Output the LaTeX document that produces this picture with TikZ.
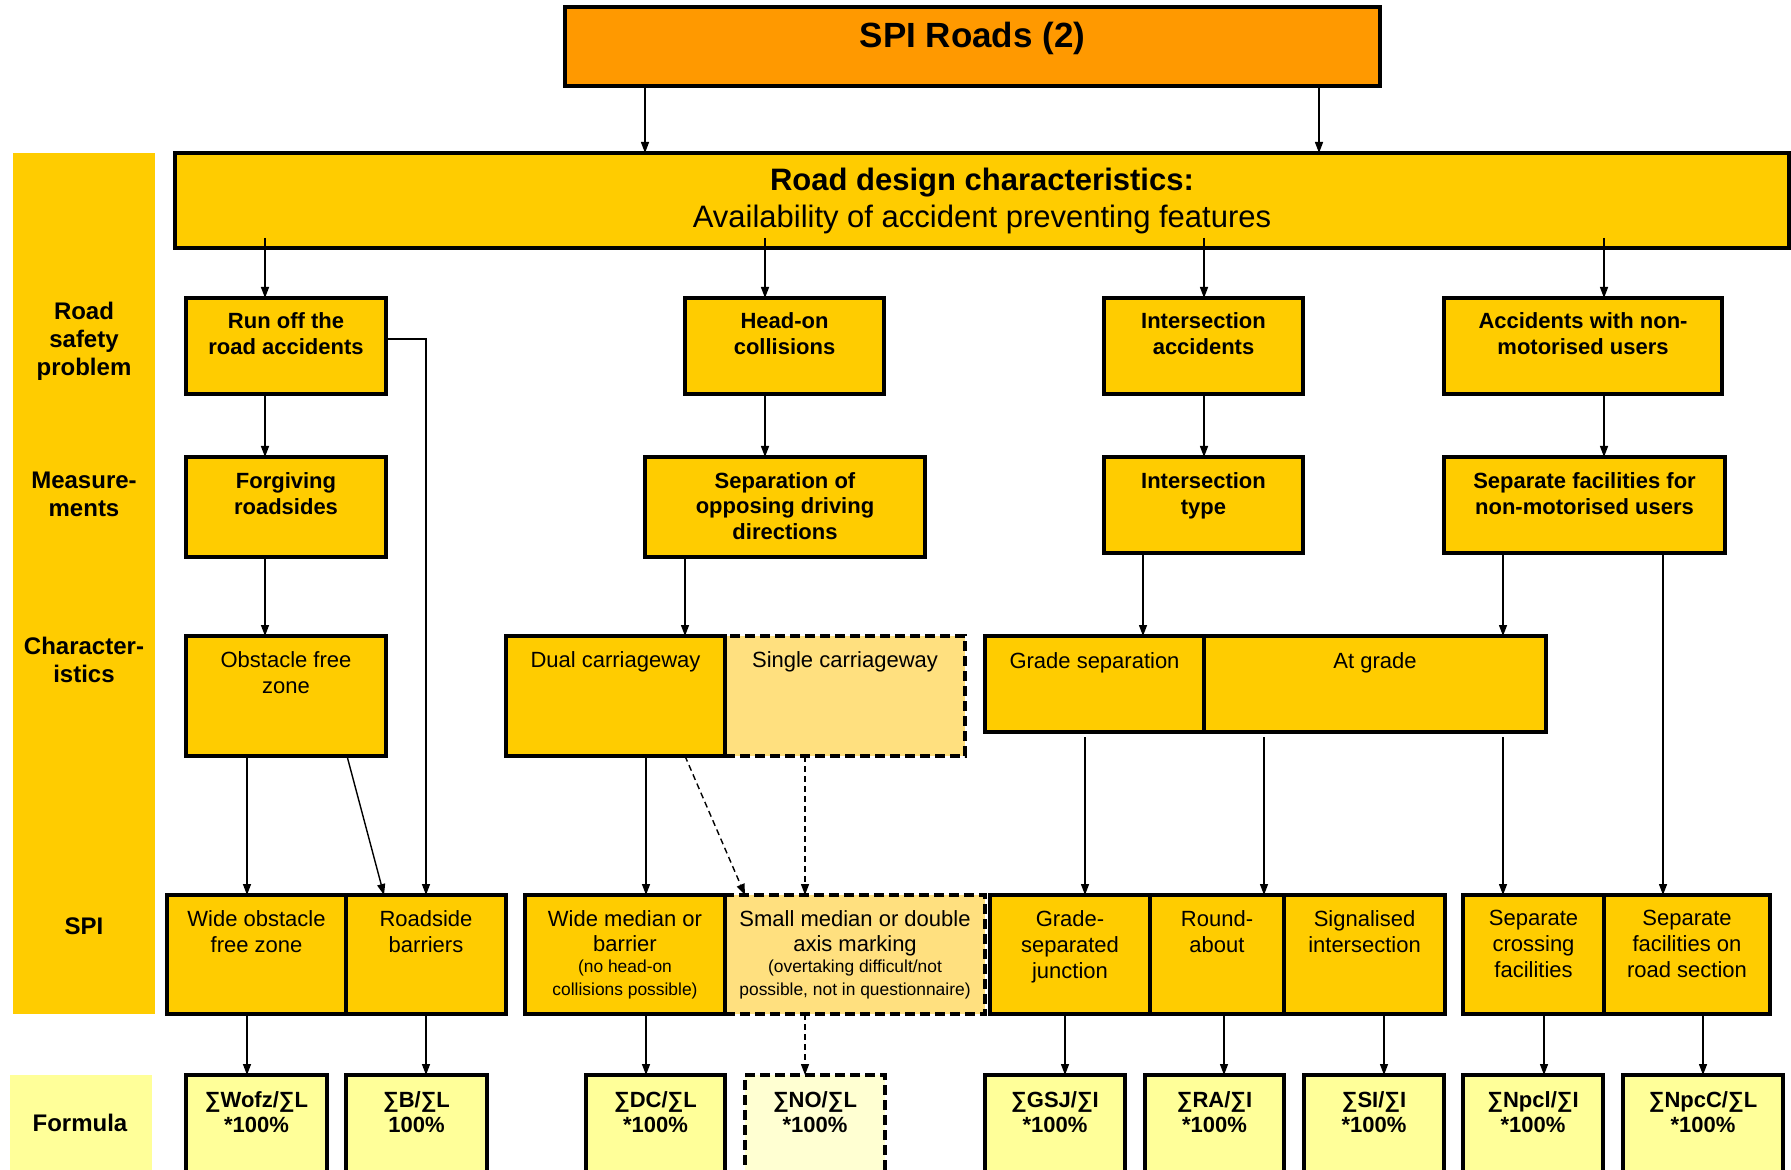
\documentclass[tikz,border=0pt]{standalone}
\usepackage{fontspec}
\setmainfont{Liberation Sans}
\usetikzlibrary{arrows.meta}
\definecolor{orangeT}{HTML}{FF9900}
\definecolor{yel}{HTML}{FFCC00}
\definecolor{lyel}{HTML}{FFE07F}
\definecolor{fyel}{HTML}{FFFF99}
\definecolor{ffyel}{HTML}{FFFFD2}
\newcommand\mybox[6]{\node[#1, anchor=north west, minimum width={(#5-#3)*0.5pt}, minimum height={(#6-#4)*0.5pt}] (#2) at (#3,#4) {};}
\newcommand\boxtext[4]{\node[#1, anchor=north] (#2-t) at ([yshift=-#3*0.5pt]#2.north) {#4};}
\tikzset{
  ybox/.style={draw, line width=1.6pt, fill=yel, inner sep=0pt, outer sep=0pt},
  dbox/.style={ybox, fill=lyel, dash pattern=on 5pt off 2.5pt},
  formbox/.style={ybox, fill=fyel},
  formdbox/.style={ybox, fill=ffyel, dash pattern=on 5pt off 2.5pt},
  band/.style={fill=#1, draw=none, inner sep=0pt, outer sep=0pt},
  btxt/.style={font=\fontsize{11}{13}\selectfont\bfseries, align=center, inner sep=0pt},
  ntxt/.style={font=\fontsize{11}{13}\selectfont, align=center, inner sep=0pt},
  stxt/.style={font=\fontsize{8.7}{11.5}\selectfont, align=center, inner sep=0pt},
  ftxt/.style={font=\fontsize{11}{12.5}\selectfont\bfseries, align=center, inner sep=0pt},
  rowlab/.style={font=\fontsize{12}{14}\selectfont\bfseries, align=center, inner sep=0pt},
  arr/.style={line width=0.7pt, -{Triangle[length=5.5pt,width=4pt]}},
  darr/.style={arr, dash pattern=on 3pt off 2pt},
}
\begin{document}
\begin{tikzpicture}[x=0.5pt,y=-0.5pt]
\useasboundingbox (0,0) rectangle (1791,1170);
\clip (0,0) rectangle (1791,1170);
\fill[white] (0,0) rectangle (1791,1170);

% column coordinates
\foreach \v in {247,265,426,645,646,685,745,765,805,1065,1085,1143,1204,1224,1264,1319,1384,1503,1544,1604,1663,1703}
  {\coordinate (x\v) at (\v,0);}

% side bands
\mybox{band=yel}{bandL}{13}{153}{155}{1014}
\mybox{band=fyel}{bandF}{10}{1075}{152}{1180}
\node[rowlab] (lab1) at (84,341) {Road\\safety\\problem};
\node[rowlab] (lab2) at (84,494) {Measure-\\ments};
\node[rowlab] (lab3) at (84,660) {Character-\\istics};
\node[rowlab] (lab4) at (84,926) {SPI};
\node[rowlab] (lab5) at (80,1123) {Formula};

% top
\mybox{ybox, fill=orangeT}{top}{565}{7}{1380}{86}
\boxtext{font=\fontsize{17.5}{20}\selectfont\bfseries, inner sep=0pt}{top}{15}{SPI Roads (2)}
\mybox{ybox}{rd}{175}{153}{1789}{248}
\boxtext{font=\fontsize{15.5}{18.5}\selectfont, align=center, inner sep=0pt}{rd}{14.5}{\textbf{Road design characteristics:}\\Availability of accident preventing features}

% row 1
\mybox{ybox}{runoff}{186}{298}{386}{394}
\mybox{ybox}{headon}{685}{298}{884}{394}
\mybox{ybox}{intacc}{1104}{298}{1303}{394}
\mybox{ybox}{nonmot}{1444}{298}{1722}{394}
\boxtext{btxt}{runoff}{14}{Run off the\\road accidents}
\boxtext{btxt}{headon}{14}{Head-on\\collisions}
\boxtext{btxt}{intacc}{14}{Intersection\\accidents}
\boxtext{btxt}{nonmot}{14}{Accidents with non-\\motorised users}

% row 2
\mybox{ybox}{forg}{186}{457}{386}{557}
\mybox{ybox}{sepopp}{645}{457}{925}{557}
\mybox{ybox}{inttype}{1104}{457}{1303}{553}
\mybox{ybox}{sepfac}{1444}{457}{1725}{553}
\boxtext{btxt}{forg}{15}{Forgiving\\roadsides}
\boxtext{btxt, font=\fontsize{11}{12.8}\selectfont\bfseries}{sepopp}{15}{Separation of\\opposing driving\\directions}
\boxtext{btxt}{inttype}{15}{Intersection\\type}
\boxtext{btxt}{sepfac}{15}{Separate facilities for\\non-motorised users}

% row 3
\mybox{ybox}{obst}{186}{636}{386}{756}
\mybox{dbox}{single}{725}{636}{965}{756}
\mybox{ybox}{dual}{506}{636}{725}{756}
\mybox{ybox}{gsep}{985}{636}{1204}{732}
\mybox{ybox}{atg}{1204}{636}{1546}{732}
\boxtext{ntxt}{obst}{15}{Obstacle free\\zone}
\boxtext{ntxt}{dual}{15}{Dual carriageway}
\boxtext{ntxt}{single}{15}{Single carriageway}
\boxtext{ntxt}{gsep}{16}{Grade separation}
\boxtext{ntxt}{atg}{16}{At grade}

% row 4
\mybox{ybox}{wofz}{167}{895}{346}{1014}
\mybox{ybox}{rb}{346}{895}{506}{1014}
\mybox{dbox}{smdam}{725}{895}{985}{1014}
\mybox{ybox}{wmb}{525}{895}{725}{1014}
\mybox{ybox}{gsj}{990}{895}{1150}{1014}
\mybox{ybox}{ra}{1150}{895}{1284}{1014}
\mybox{ybox}{si}{1284}{895}{1445}{1014}
\mybox{ybox}{scf}{1463}{895}{1604}{1014}
\mybox{ybox}{sfr}{1604}{895}{1770}{1014}
\boxtext{ntxt}{wofz}{15}{Wide obstacle\\free zone}
\boxtext{ntxt}{rb}{15}{Roadside\\barriers}
\boxtext{ntxt, font=\fontsize{11}{12.5}\selectfont}{wmb}{15}{Wide median or\\barrier}
\node[stxt, anchor=north] (wmb-s) at ([yshift=-64.5*0.5pt]wmb.north) {(no head-on\\collisions possible)};
\boxtext{ntxt, font=\fontsize{11}{12.5}\selectfont}{smdam}{15}{Small median or double\\axis marking}
\node[stxt, anchor=north] (smdam-s) at ([yshift=-64.5*0.5pt]smdam.north) {(overtaking difficult/not\\possible, not in questionnaire)};
\boxtext{ntxt}{gsj}{15}{Grade-\\separated\\junction}
\boxtext{ntxt}{ra}{15}{Round-\\about}
\boxtext{ntxt}{si}{15}{Signalised\\intersection}
\boxtext{ntxt}{scf}{15}{Separate\\crossing\\facilities}
\boxtext{ntxt}{sfr}{15}{Separate\\facilities on\\road section}

% row 5
\mybox{formbox}{f1}{186}{1075}{327}{1180}
\mybox{formbox}{f2}{346}{1075}{487}{1180}
\mybox{formbox}{f3}{586}{1075}{725}{1180}
\mybox{formdbox}{f4}{745}{1075}{885}{1180}
\mybox{formbox}{f5}{985}{1075}{1125}{1180}
\mybox{formbox}{f6}{1145}{1075}{1284}{1180}
\mybox{formbox}{f7}{1304}{1075}{1444}{1180}
\mybox{formbox}{f8}{1463}{1075}{1603}{1180}
\mybox{formbox}{f9}{1623}{1075}{1783}{1180}
\boxtext{ftxt}{f1}{16}{∑Wofz/∑L\\*100\%}
\boxtext{ftxt}{f2}{16}{∑B/∑L\\100\%}
\boxtext{ftxt}{f3}{16}{∑DC/∑L\\*100\%}
\boxtext{ftxt}{f4}{16}{∑NO/∑L\\*100\%}
\boxtext{ftxt}{f5}{16}{∑GSJ/∑I\\*100\%}
\boxtext{ftxt}{f6}{16}{∑RA/∑I\\*100\%}
\boxtext{ftxt}{f7}{16}{∑SI/∑I\\*100\%}
\boxtext{ftxt}{f8}{16}{∑Npcl/∑I\\*100\%}
\boxtext{ftxt}{f9}{16}{∑NpcC/∑L\\*100\%}

% connectors: top -> road design
\draw[arr] (top.south -| x645) -- (rd.north -| x645);
\draw[arr] (top.south -| x1319) -- (rd.north -| x1319);
% road design -> row 1
\draw[arr] ([yshift=5pt]rd.south -| x265) -- (runoff.north -| x265);
\draw[arr] ([yshift=5pt]rd.south -| x765) -- (headon.north -| x765);
\draw[arr] ([yshift=5pt]rd.south -| x1204) -- (intacc.north -| x1204);
\draw[arr] ([yshift=5pt]rd.south -| x1604) -- (nonmot.north -| x1604);
% row 1 -> row 2
\draw[arr] (runoff.south -| x265) -- (forg.north -| x265);
\draw[arr] (headon.south -| x765) -- (sepopp.north -| x765);
\draw[arr] (intacc.south -| x1204) -- (inttype.north -| x1204);
\draw[arr] (nonmot.south -| x1604) -- (sepfac.north -| x1604);
\draw[arr] ([yshift=3.5pt]runoff.east) -| (rb.north -| x426);
% row 2 -> row 3
\draw[arr] (forg.south -| x265) -- (obst.north -| x265);
\draw[arr] (sepopp.south -| x685) -- (dual.north -| x685);
\draw[arr] (inttype.south -| x1143) -- (gsep.north -| x1143);
\draw[arr] (sepfac.south -| x1503) -- (atg.north -| x1503);
\draw[arr] (sepfac.south -| x1663) -- (sfr.north -| x1663);
% row 3 -> row 4
\draw[arr] (obst.south -| x247) -- (wofz.north -| x247);
\draw[arr] ([xshift=-19.5pt]obst.south east) -- ([xshift=19pt]rb.north west);
\draw[arr] (dual.south -| x646) -- (wmb.north -| x646);
\draw[darr] (dual.south -| x685) -- (smdam.north -| x745);
\draw[darr] (single.south -| x805) -- (smdam.north -| x805);
\draw[arr] ([yshift=-2.5pt]gsep.south -| x1085) -- (gsj.north -| x1085);
\draw[arr] ([yshift=-2.5pt]atg.south -| x1264) -- (ra.north -| x1264);
\draw[arr] ([yshift=-2.5pt]atg.south -| x1503) -- (scf.north -| x1503);
% row 4 -> row 5
\draw[arr] (wofz.south -| x247) -- (f1.north -| x247);
\draw[arr] (rb.south -| x426) -- (f2.north -| x426);
\draw[arr] (wmb.south -| x646) -- (f3.north -| x646);
\draw[darr] (smdam.south -| x805) -- (f4.north -| x805);
\draw[arr] (gsj.south -| x1065) -- (f5.north -| x1065);
\draw[arr] (ra.south -| x1224) -- (f6.north -| x1224);
\draw[arr] (si.south -| x1384) -- (f7.north -| x1384);
\draw[arr] (scf.south -| x1544) -- (f8.north -| x1544);
\draw[arr] (sfr.south -| x1703) -- (f9.north -| x1703);
\end{tikzpicture}
\end{document}
